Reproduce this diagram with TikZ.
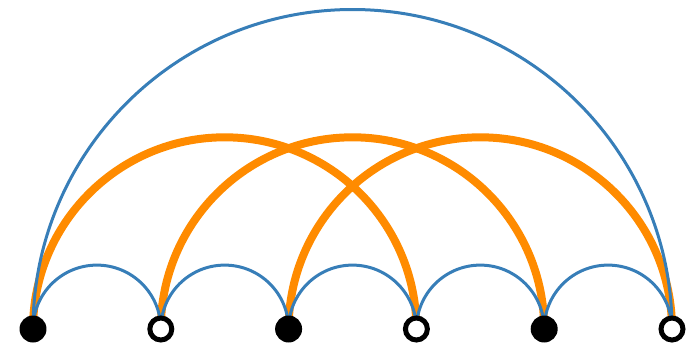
\documentclass[tikz,border=0pt]{standalone}
\usepackage{xcolor}
\usetikzlibrary{math}
\definecolor{arcblue}{RGB}{55,126,184}
\definecolor{arcorange}{RGB}{255,139,0}

\begin{document}
\begin{tikzpicture}[x=0.02cm,y=0.02cm]
\tikzmath{
\dx=127.8;%node spacing
\xo=33;
\yo=14;
}
\useasboundingbox (0,0) rectangle (694,343);
\tikzset{
  full/.style={circle,fill=black,inner sep=0,minimum size=0.54cm},
  open/.style={circle,draw=black,fill=white,line width=0.1cm,inner sep=0,minimum size=0.44cm},
  thin/.style={arcblue,line width=0.06cm},
  thick/.style={arcorange,line width=0.16cm}
}
%positions first, nodes drawn last
\foreach \i in {0,...,5}{
  \coordinate (c\i) at (\xo+\i*\dx,\yo);
}
%long arcs
\foreach \i/\j in {0/3,1/4,2/5}{
  \draw[thick] (c\i) arc[start angle=180,end angle=0,radius=1.5*\dx];
}
\draw[thin] (c0) arc[start angle=180,end angle=0,radius=2.5*\dx];
%short arcs
\foreach \i in {0,...,4}{
  \draw[thin] (c\i) arc[start angle=180,end angle=0,radius=0.5*\dx];
}
\foreach \i in {0,2,4}{
  \node[full] (n\i) at (c\i) {};
}
\foreach \i in {1,3,5}{
  \node[open] (n\i) at (c\i) {};
}
\end{tikzpicture}
\end{document}
